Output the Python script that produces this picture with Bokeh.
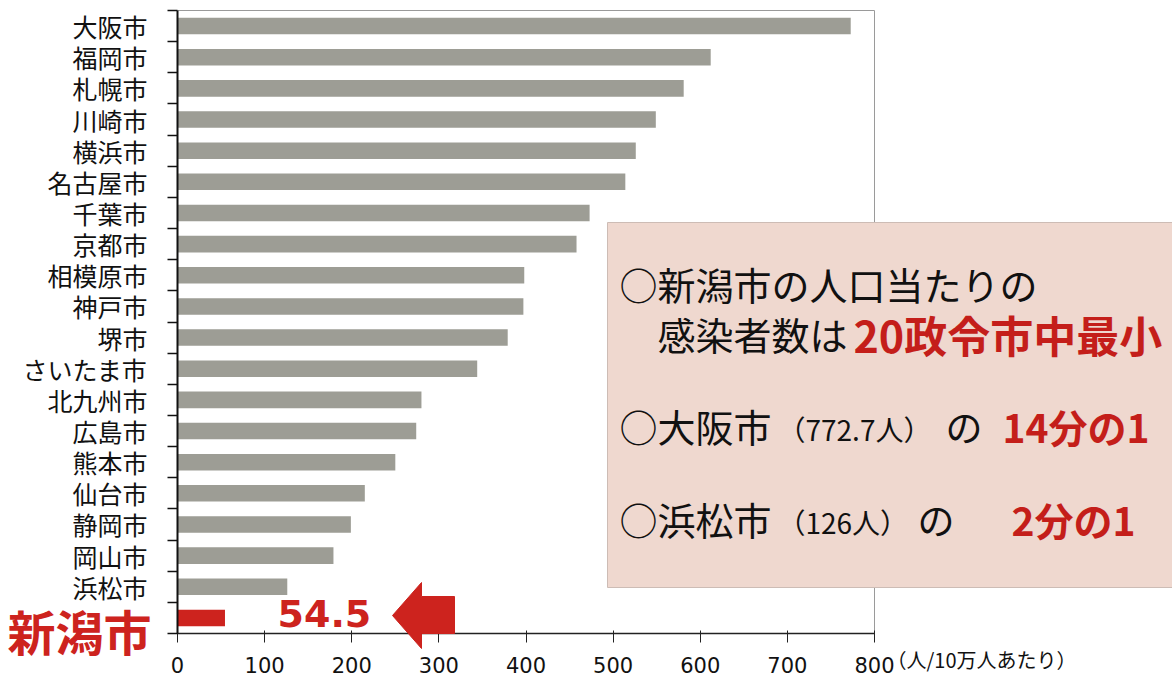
from bokeh.plotting import figure
from bokeh.models import Range1d, FixedTicker, Label, PolyAnnotation, ColumnDataSource
from bokeh.embed import file_html
from bokeh.resources import INLINE

# ---------------- data ----------------
cities = ["大阪市", "福岡市", "札幌市", "川崎市", "横浜市", "名古屋市", "千葉市", "京都市",
          "相模原市", "神戸市", "堺市", "さいたま市", "北九州市", "広島市", "熊本市",
          "仙台市", "静岡市", "岡山市", "浜松市", "新潟市"]
values = [772.7, 612, 581, 549, 526, 514, 473, 458, 398, 397, 379, 344,
          280, 274, 250, 215, 199, 179, 126, 54.5]
x_ticks = [0, 100, 200, 300, 400, 500, 600, 700, 800]
x_max_tick = 800
unit_label = "（人/10万人あたり）"
highlight = "新潟市"
highlight_value = "54.5"
note1 = "○新潟市の人口当たりの"
note2a = "感染者数は"
note2b = "20政令市中最小"
note3a = "○大阪市"
note3b = "（772.7人）"
note3c = "の"
note3d = "14分の1"
note4a = "○浜松市"
note4b = "（126人）"
note4c = "の"
note4d = "2分の1"

# ---------------- layout constants (pixels) ----------------
FIG_W, FIG_H = 1172, 676
X0_PX = 177          # pixel of value 0
PX_PER_UNIT = 697 / 800.0
TOP_PX, BOT_PX = 10, 633
N = len(cities)
ROW_PX = (BOT_PX - TOP_PX) / N


def dx(px):
    return (px - X0_PX) / PX_PER_UNIT


def dy(py):
    return (BOT_PX - py) / ROW_PX - 0.5


GRAY = "#9d9d95"
RED = "#cd231e"
TEXT_RED = "#c41e1a"
JP = "Noto Sans CJK JP"

ypos = [N - 1 - i for i in range(N)]
colors = [RED if c == highlight else GRAY for c in cities]
src = ColumnDataSource(dict(y=ypos, v=values, c=colors))

p = figure(width=FIG_W, height=FIG_H, output_backend="svg", toolbar_location=None,
           x_range=Range1d(dx(0), dx(FIG_W)), y_range=Range1d(dy(FIG_H), dy(0)),
           min_border=0, min_border_left=0, min_border_right=0,
           min_border_top=0, min_border_bottom=0)
p.outline_line_color = None
p.background_fill_color = "white"
p.border_fill_color = "white"
p.xgrid.visible = False
p.ygrid.visible = False

# plot-area border (top and right)
p.segment(x0=[0, x_max_tick], y0=[N - 0.5, -0.5], x1=[x_max_tick, x_max_tick], y1=[N - 0.5, N - 0.5],
          line_color="#9a9a9a", line_width=1)

p.hbar(y="y", right="v", left=0, height=0.53, fill_color="c", line_color=None, source=src)

# annotation box
p.quad(left=[dx(607)], right=[dx(FIG_W)], top=[dy(222)], bottom=[dy(587)],
       fill_color="#efd8cf", line_color="#cdbcb5", line_width=1)

# axes (pinned at data locations)
xa = p.xaxis[0]
xa.fixed_location = -0.5
xa.ticker = FixedTicker(ticks=x_ticks)
xa.bounds = (0, x_max_tick)
xa.axis_line_color = "#222222"
xa.axis_line_width = 1.5
xa.major_tick_line_color = "#222222"
xa.major_tick_in = 3
xa.major_tick_out = 9
xa.minor_tick_line_color = None
xa.major_label_text_font = "DejaVu Sans"
xa.major_label_text_font_size = "21px"
xa.major_label_text_color = "#111111"
xa.major_label_standoff = 14

ya = p.yaxis[0]
ya.fixed_location = 0
ya.bounds = (-0.5, N - 0.5)
ya.ticker = FixedTicker(ticks=ypos, minor_ticks=[k - 0.5 for k in range(N + 1)])
ya.major_label_overrides = {float(y): ("" if c == highlight else c) for y, c in zip(ypos, cities)}
ya.axis_line_color = "#111111"
ya.axis_line_width = 2
ya.major_tick_in = 0
ya.major_tick_out = 0
ya.minor_tick_in = 0
ya.minor_tick_out = 10
ya.minor_tick_line_color = "#111111"
ya.minor_tick_line_width = 1.5
ya.major_label_text_font = JP
ya.major_label_text_font_size = "25px"
ya.major_label_text_color = "#111111"
ya.major_label_standoff = 20

# highlighted city label and value
p.add_layout(Label(x=dx(151), y=dy(629), text=highlight, text_font=JP, text_font_style="bold",
                   text_font_size="48px", text_color=RED, text_align="right", text_baseline="middle"))
p.add_layout(Label(x=dx(277), y=dy(613), text=highlight_value, text_font="DejaVu Sans",
                   text_font_style="bold", text_font_size="38px", text_color=RED,
                   text_align="left", text_baseline="middle"))

# arrow pointing left
p.add_layout(PolyAnnotation(
    xs=[dx(392), dx(421), dx(421), dx(454), dx(454), dx(421), dx(421)],
    ys=[dy(615), dy(582), dy(596), dy(596), dy(633), dy(633), dy(648)],
    fill_color=RED, fill_alpha=1.0, line_color=RED, line_alpha=1.0))

# unit label
p.add_layout(Label(x=dx(886), y=dy(659), text=unit_label, text_font=JP, text_font_size="20px",
                   text_color="#111111", text_align="left", text_baseline="middle"))


# notes in the box
def note(px, py, text, size, color="#111111", bold=False):
    p.add_layout(Label(x=dx(px), y=dy(py), text=text, text_font=JP, text_font_size=size,
                       text_font_style="bold" if bold else "normal", text_color=color,
                       text_align="left", text_baseline="middle"))


note(619, 283, note1, "38px")
note(657, 333, note2a, "38px")
note(853, 333, note2b, "43px", TEXT_RED, True)
note(619, 425, note3a, "38px")
note(777, 428, note3b, "28px")
note(945, 425, note3c, "37px")
note(1002, 425, note3d, "39px", TEXT_RED, True)
note(619, 518, note4a, "38px")
note(777, 521, note4b, "28px")
note(917, 518, note4c, "37px")
note(1011, 518, note4d, "39px", TEXT_RED, True)

open("out.html", "w").write(file_html(p, INLINE))
